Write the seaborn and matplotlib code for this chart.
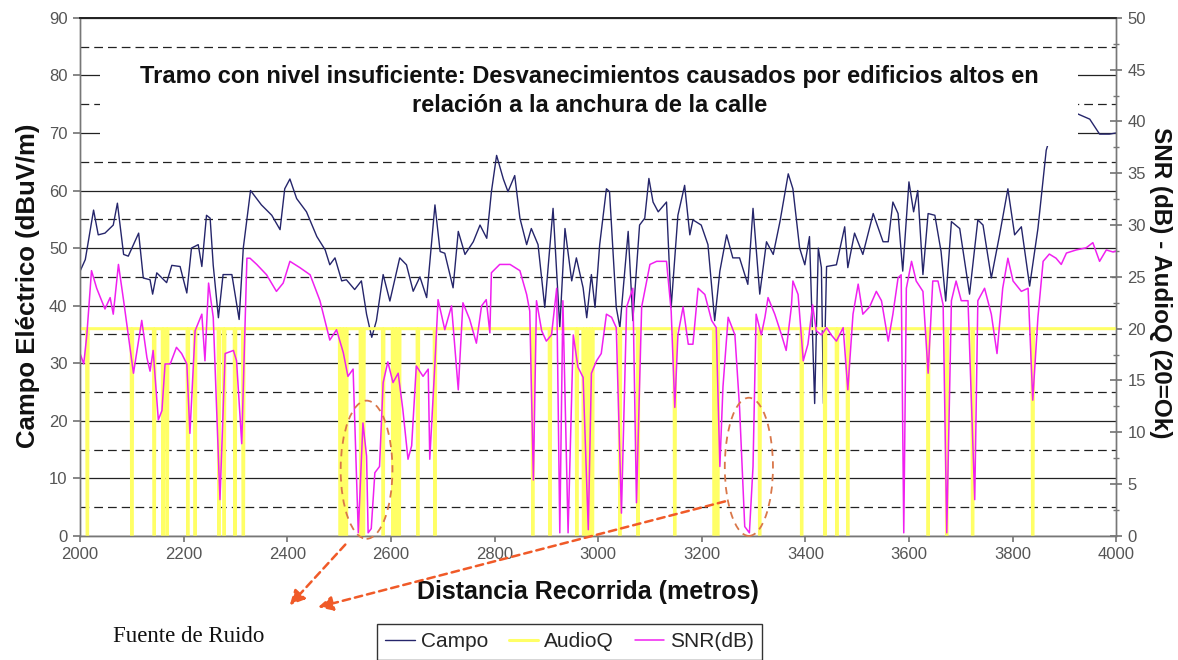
import matplotlib.pyplot as plt
import seaborn as sns
from matplotlib.patches import Ellipse, Rectangle
from matplotlib.ticker import MultipleLocator

# Campo eléctrico (dBuV/m), eje izquierdo
campo_x = [2000, 2010, 2026, 2035, 2048, 2064, 2072, 2084, 2093, 2100, 2113, 2122, 2135, 2140,
           2148, 2158, 2167, 2177, 2193, 2206, 2215, 2228, 2235, 2244, 2251, 2257, 2267, 2276,
           2293, 2307, 2315, 2329, 2350, 2370, 2386, 2395, 2405, 2418, 2437, 2457, 2473, 2482,
           2492, 2505, 2514, 2530, 2543, 2553, 2563, 2572, 2585, 2598, 2617, 2630, 2643, 2656,
           2669, 2685, 2695, 2704, 2720, 2730, 2743, 2759, 2772, 2785, 2794, 2804, 2817, 2826,
           2839, 2849, 2862, 2871, 2884, 2897, 2913, 2926, 2936, 2949, 2958, 2971, 2978, 2987,
           2994, 3003, 3016, 3022, 3035, 3042, 3058, 3067, 3080, 3090, 3098, 3106, 3116, 3132,
           3141, 3154, 3167, 3177, 3183, 3199, 3212, 3225, 3235, 3248, 3260, 3273, 3289, 3299,
           3312, 3325, 3338, 3351, 3367, 3376, 3389, 3399, 3408, 3418, 3425, 3431, 3435, 3441,
           3460, 3476, 3482, 3495, 3511, 3531, 3550, 3560, 3569, 3579, 3588, 3600, 3609, 3617,
           3627, 3637, 3650, 3662, 3671, 3682, 3698, 3717, 3733, 3743, 3759, 3775, 3791, 3804,
           3817, 3833, 3849, 3865, 3885, 3905, 3926, 3949, 3968, 3987, 4000]
campo_y = [46, 48, 56.6, 52.3, 52.6, 54, 57.8, 48.9, 48.6, 50, 52.6, 44.8, 44.5, 42,
           45.7, 44.8, 44, 47, 46.8, 42.2, 50, 50.6, 46.8, 55.7, 55.2, 47, 37.9, 45.4,
           45.4, 37.6, 50, 60, 57.5, 55.7, 53.2, 60.3, 62, 58.6, 56.3, 52, 49.7, 47.1,
           48.3, 44.3, 44.5, 42.8, 44.3, 38.5, 34.5, 37.4, 45.4, 40.8, 48.3, 47.1, 42.5, 45,
           41.4, 57.5, 49.4, 49.1, 43.1, 52.9, 48.9, 51.1, 54, 51.7, 59.8, 66.1, 62, 59.8,
           62.6, 55.2, 50.6, 53.4, 50.6, 39.7, 56.9, 36.2, 53.4, 44.3, 48.3, 43.1, 37.9, 45.4,
           39.7, 50.6, 60.3, 59.8, 39.7, 36.2, 52.9, 37.4, 54, 55.2, 62.1, 58, 56.3, 58,
           39.7, 55.7, 60.9, 52.3, 54.9, 54, 50.6, 37.4, 46, 52.3, 48.3, 48.3, 43.7, 56.9,
           42, 51.1, 48.9, 54.6, 62.9, 60.3, 50, 47.1, 52, 23, 50, 46.6, 23, 46.8,
           47.1, 53.7, 46.6, 52.6, 48.9, 56, 51.1, 51.1, 58, 56, 46, 61.5, 56.3, 60,
           45.4, 56, 55.7, 49.4, 40.8, 54.6, 53.4, 42, 54.9, 54, 44.8, 52.3, 60.3, 52.3,
           53.7, 43.4, 53.4, 67, 73, 74.5, 73.3, 72.4, 69.8, 69.8, 70]

# SNR (dB), eje derecho
snr_x = [2000, 2007, 2013, 2022, 2032, 2048, 2058, 2064, 2074, 2084, 2093, 2103, 2119, 2129,
         2135, 2141, 2151, 2158, 2164, 2174, 2186, 2196, 2206, 2212, 2222, 2235, 2241, 2248,
         2257, 2270, 2280, 2296, 2302, 2312, 2322, 2328, 2341, 2360, 2379, 2392, 2405, 2424,
         2444, 2463, 2482, 2495, 2508, 2517, 2527, 2537, 2546, 2553, 2556, 2562, 2569, 2578,
         2585, 2594, 2604, 2614, 2623, 2633, 2640, 2649, 2662, 2672, 2675, 2685, 2691, 2704,
         2717, 2730, 2739, 2752, 2765, 2775, 2784, 2791, 2794, 2810, 2830, 2849, 2862, 2868,
         2875, 2881, 2891, 2900, 2910, 2920, 2926, 2932, 2942, 2952, 2961, 2971, 2981, 2987,
         2997, 3006, 3016, 3026, 3035, 3045, 3055, 3067, 3074, 3084, 3100, 3113, 3132, 3141,
         3148, 3154, 3164, 3174, 3183, 3193, 3206, 3219, 3228, 3235, 3241, 3251, 3264, 3273,
         3283, 3292, 3299, 3305, 3315, 3322, 3328, 3341, 3354, 3363, 3373, 3376, 3386, 3396,
         3405, 3414, 3421, 3431, 3441, 3450, 3460, 3473, 3482, 3492, 3502, 3511, 3524, 3537,
         3547, 3560, 3569, 3579, 3585, 3590, 3595, 3605, 3614, 3627, 3637, 3646, 3656, 3666,
         3673, 3682, 3691, 3701, 3714, 3727, 3733, 3746, 3759, 3770, 3781, 3791, 3801, 3817,
         3830, 3839, 3849, 3859, 3871, 3884, 3894, 3904, 3923, 3942, 3955, 3968, 3981, 3994,
         4000]
snr_db = [17.6, 16.6, 19.4, 25.6, 23.9, 21.9, 23.0, 21.4, 26.2, 22.7, 19.4, 15.7, 20.8, 17.2,
          15.9, 17.9, 11.2, 12.1, 16.6, 16.6, 18.2, 17.6, 16.6, 9.9, 19.8, 21.4, 16.9, 24.4,
          21.1, 3.5, 17.6, 17.9, 16.9, 8.9, 26.8, 26.8, 26.2, 25.2, 23.6, 24.4, 26.5, 25.9,
          25.2, 22.7, 18.9, 19.9, 17.7, 15.4, 16.1, 0.3, 10.9, 7.7, 0.3, 0.7, 6.1, 6.7,
          14.8, 16.8, 14.8, 15.7, 12.2, 7.4, 8.7, 16.4, 15.4, 16.1, 7.4, 16.7, 22.8, 19.9,
          22.2, 14.1, 22.5, 20.9, 18.6, 22.2, 22.8, 19.6, 25.4, 26.2, 26.2, 25.6, 23.3, 21.7,
          5.4, 22.7, 19.8, 18.8, 19.4, 23.9, 0.3, 22.7, 0.3, 19.4, 16.3, 15.3, 0.6, 15.7,
          16.9, 17.6, 21.4, 21.1, 20.1, 2.2, 22.1, 23.9, 3.2, 22.1, 26.2, 26.5, 26.5, 21.7,
          12.4, 19.4, 22.1, 18.5, 18.5, 23.9, 23.3, 20.8, 20.1, 6.7, 14.4, 21.1, 19.4, 12.4,
          0.9, 0.3, 6.7, 21.4, 19.4, 21.1, 23.0, 21.4, 19.4, 17.9, 22.1, 24.6, 23.3, 16.9,
          18.5, 22.3, 19.8, 19.4, 20.1, 19.4, 18.8, 20.1, 14.1, 21.4, 24.3, 21.4, 22.1, 23.6,
          22.7, 18.8, 21.4, 24.9, 25.2, 0.3, 23.9, 26.5, 24.6, 23.6, 15.7, 24.6, 24.6, 22.3,
          0.3, 22.7, 24.6, 22.7, 22.7, 3.5, 22.7, 23.9, 21.4, 17.6, 23.9, 26.8, 24.6, 23.6,
          23.9, 13.1, 21.1, 26.5, 27.2, 26.8, 26.2, 27.3, 27.6, 27.8, 28.3, 26.5, 27.6, 27.4,
          27.5]

# AudioQ: 20 = Ok, caidas a 0 en estas distancias (m)
audioq_ok = 20
audioq_caidas = [2014, 2100, 2143, 2160, 2168, 2208, 2222, 2268, 2278, 2299, 2315,
                 2502, 2508, 2514, 2542, 2547, 2585, 2604, 2610, 2616, 2652, 2685,
                 2874, 2907, 2959, 2972, 2978, 2984, 2989, 3042, 3077, 3148, 3224, 3231,
                 3312, 3393, 3438, 3461, 3482, 3637, 3673, 3723, 3839]

titulo = ("Tramo con nivel insuficiente: Desvanecimientos causados por edificios altos en\n"
          "relación a la anchura de la calle")

sns.set_theme(style="white")
plt.rcParams['font.family'] = ['Liberation Sans', 'DejaVu Sans']

aq_x, aq_y = [2000], [audioq_ok]
for c in audioq_caidas:
    aq_x += [c - 1.5, c - 0.5, c + 0.5, c + 1.5]
    aq_y += [audioq_ok, 0, 0, audioq_ok]
aq_x.append(4000)
aq_y.append(audioq_ok)

fig = plt.figure(figsize=(11.78, 6.6), dpi=100)
ax = fig.add_axes([0.068, 0.188, 0.8795, 0.785])
ax2 = ax.twinx()

sns.lineplot(x=campo_x, y=campo_y, ax=ax, color='#25256b', lw=1.0, label='Campo',
             estimator=None, sort=False)
sns.lineplot(x=aq_x, y=aq_y, ax=ax2, color='#ffff66', lw=2.2, label='AudioQ',
             estimator=None, sort=False)
sns.lineplot(x=snr_x, y=snr_db, ax=ax2, color='#f020f0', lw=1.1, label='SNR(dB)',
             estimator=None, sort=False)
for a in (ax, ax2):
    if a.get_legend():
        a.get_legend().remove()

ax.set_xlim(2000, 4000)
ax.set_ylim(0, 90)
ax2.set_ylim(0, 50)
ax.set_xticks(range(2000, 4001, 200))
ax.set_yticks(range(0, 91, 10))
ax.yaxis.set_minor_locator(MultipleLocator(5))
ax2.set_yticks(range(0, 51, 5))
ax2.yaxis.set_minor_locator(MultipleLocator(2.5))

ax.grid(False)
ax2.grid(False)
ax.grid(which='major', axis='y', color='#222222', lw=0.9, ls='-')
ax.grid(which='minor', axis='y', color='#222222', lw=0.9, ls=(0, (7, 4)))

ax.tick_params(axis='x', which='major', direction='out', length=4, color='#777777',
               labelsize=12, labelcolor='#555555', pad=4, bottom=True)
ax.tick_params(axis='y', which='major', direction='out', length=5, color='#777777',
               labelsize=12, labelcolor='#555555', pad=4, left=True)
ax.tick_params(axis='y', which='minor', length=0)
ax2.tick_params(axis='y', which='major', direction='inout', length=8, color='#777777',
                labelsize=12, labelcolor='#555555', pad=4, right=True)
ax2.tick_params(axis='y', which='minor', direction='inout', length=5, color='#777777',
                right=True)

for a in (ax, ax2):
    for side in ('left', 'right', 'bottom'):
        a.spines[side].set_color('#777777')
        a.spines[side].set_linewidth(1.0)
    a.spines['top'].set_color('#222222')

ax.set_xlabel('Distancia Recorrida (metros)', fontsize=18, fontweight='bold', color='#111111')
ax.xaxis.set_label_coords(0.490, -0.085)
ax.set_ylabel('Campo Eléctrico (dBuV/m)', fontsize=18.5, fontweight='bold', color='#111111',
              va='center')
ax.yaxis.set_label_coords(-0.050, 0.483)
ax2.set_ylabel('SNR (dB) - AudioQ (20=Ok)', fontsize=17.5, fontweight='bold', color='#111111',
               rotation=270, va='center')
ax2.yaxis.set_label_coords(1.0425, 0.488)

# recuadro blanco del titulo
ax2.add_patch(Rectangle((0.019, 0.752), 0.944, 0.163, transform=ax2.transAxes,
                        facecolor='white', edgecolor='none', zorder=10))
ax2.text(0.492, 0.859, titulo, transform=ax2.transAxes, ha='center', va='center',
         fontsize=17, fontweight='bold', color='#111111', linespacing=1.36, zorder=11)

# elipses de las zonas con ruido
for cx, cy, w, h in [(2553, 11.5, 100, 24), (3291, 12, 93, 24)]:
    ax2.add_patch(Ellipse((cx, cy), w, h, transform=ax.transData, fill=False,
                          edgecolor='#d9774a', lw=1.3, ls=(0, (4, 3)), zorder=8,
                          clip_on=False))

flecha = dict(arrowstyle='-|>', color='#f05a28', lw=1.8, ls=(0, (3, 2)),
              mutation_scale=22, shrinkA=0, shrinkB=0)
ax2.annotate('', xy=(0.246, 0.083), xycoords='figure fraction',
             xytext=(2512, -1.5), textcoords=ax.transData, arrowprops=flecha,
             annotation_clip=False)
ax2.annotate('', xy=(0.270, 0.080), xycoords='figure fraction',
             xytext=(3245, 6), textcoords=ax.transData, arrowprops=flecha,
             annotation_clip=False)

fig.text(113 / 1178, 1 - 636 / 660, 'Fuente de Ruido', family=['Liberation Serif'],
         fontsize=16.5, ha='left', va='center', color='#111111')

handles = ax.get_lines()[:1] + ax2.get_lines()[:2]
leg = fig.legend(handles, ['Campo', 'AudioQ', 'SNR(dB)'], loc='upper left',
                 bbox_to_anchor=(377 / 1178, 1 - 624 / 660), ncol=3, fontsize=15,
                 frameon=True, fancybox=False, framealpha=1, edgecolor='#333333',
                 handlelength=1.4, handletextpad=0.3, columnspacing=1.0,
                 borderpad=0.4, borderaxespad=0)
leg.get_frame().set_linewidth(1.0)

fig.savefig('out.png', dpi=100)
